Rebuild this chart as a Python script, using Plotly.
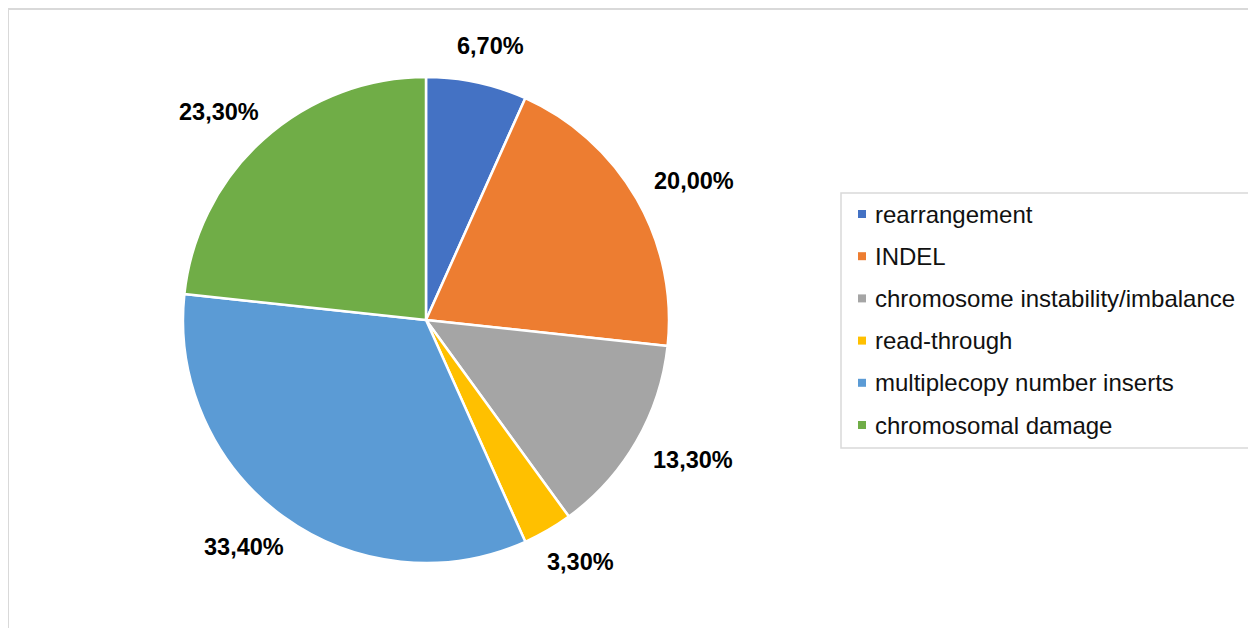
import math
import plotly.graph_objects as go

# ---- data ----
categories = ["rearrangement", "INDEL", "chromosome instability/imbalance",
              "read-through", "multiplecopy number inserts", "chromosomal damage"]
values = [6.7, 20.0, 13.3, 3.3, 33.4, 23.3]
colors = ["#4472C4", "#ED7D31", "#A5A5A5", "#FFC000", "#5B9BD5", "#70AD47"]

W, H = 1256, 628
OFF = 8  # page body margin of the html page
FONT = "Liberation Sans, Arial, sans-serif"

# pie geometry (pixels in the screenshot)
cx, cy, R = 426, 320, 243


def px(x):
    return (x - OFF) / W


def py(y):
    return 1 - (y - OFF) / H


fig = go.Figure()
fig.add_trace(go.Pie(
    labels=categories,
    values=values,
    marker=dict(colors=colors, line=dict(color="white", width=2.5)),
    sort=False,
    direction="clockwise",
    rotation=0,
    textinfo="none",
    showlegend=False,
    domain=dict(x=[px(cx - R), px(cx + R)], y=[py(cy + R), py(cy - R)]),
))

annotations = []
shapes = []

# data labels placed outside the pie, derived from the slice mid-angles
total = sum(values)
cum = 0.0
gap = 26
tw, th = 80, 22
for v in values:
    mid = (cum + v / 2) / total
    cum += v
    a = 2 * math.pi * mid
    ux, uy = math.sin(a), -math.cos(a)
    lx = cx + (R + gap) * ux + ux * tw / 2
    ly = cy + (R + gap) * uy + uy * th / 2
    annotations.append(dict(
        x=px(lx), y=py(ly), xref="paper", yref="paper",
        text=f"{v:.2f}".replace(".", ",") + "%",
        showarrow=False, xanchor="center", yanchor="middle",
        font=dict(family=FONT, size=23.5, color="#000000", weight="bold"),
    ))

# legend (drawn manually to match spacing)
leg_x0, leg_y0, leg_x1, leg_y1 = 841, 193, 1250, 448
shapes.append(dict(type="rect", xref="paper", yref="paper",
                   x0=px(leg_x0), x1=px(leg_x1), y0=py(leg_y1), y1=py(leg_y0),
                   line=dict(color="#d9d9d9", width=1.5), fillcolor="rgba(0,0,0,0)"))
for i, (cat, col) in enumerate(zip(categories, colors)):
    yc = 214 + 42.2 * i
    shapes.append(dict(type="rect", xref="paper", yref="paper",
                       x0=px(858), x1=px(866), y0=py(yc + 4), y1=py(yc - 4),
                       line=dict(width=0), fillcolor=col))
    annotations.append(dict(
        x=px(873), y=py(yc), xref="paper", yref="paper", text=cat,
        showarrow=False, xanchor="left", yanchor="middle",
        font=dict(family=FONT, size=24, color="#111111"),
    ))

# outer chart border
shapes.append(dict(type="rect", xref="paper", yref="paper",
                   x0=px(8), x1=1.05, y0=-0.05, y1=py(9),
                   line=dict(color="#d9d9d9", width=2), fillcolor="rgba(0,0,0,0)",
                   layer="below"))

fig.update_layout(
    width=W, height=H,
    margin=dict(l=0, r=0, t=0, b=0),
    paper_bgcolor="white",
    plot_bgcolor="white",
    showlegend=False,
    annotations=annotations,
    shapes=shapes,
    font=dict(family=FONT),
)

fig.write_html("out.html")
